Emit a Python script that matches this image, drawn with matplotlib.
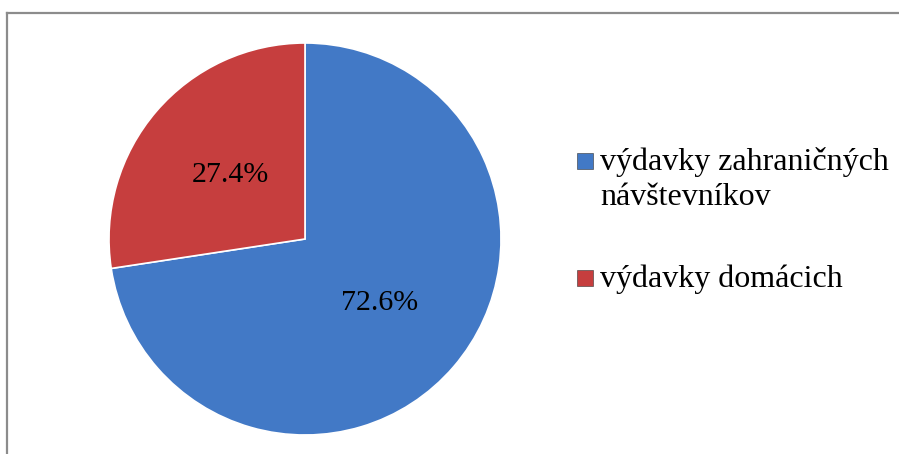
import matplotlib.pyplot as plt
from matplotlib.lines import Line2D
from matplotlib.patches import Rectangle

labels = ["výdavky zahraničných\nnávštevníkov", "výdavky domácich"]
shares = [72.6, 27.4]
colors = ["#4279C6", "#C63E3E"]

plt.rcParams['font.family'] = ['Liberation Serif', 'DejaVu Serif']

W, H = 899, 454
fig = plt.figure(figsize=(W / 100, H / 100), dpi=100)

# outer frame (only top and left edges are visible in the crop)
fig.add_artist(Line2D([7 / W, 1.0], [1 - 13 / H, 1 - 13 / H], color="#8c8c8c", lw=1.6))
fig.add_artist(Line2D([7 / W, 7 / W], [1 - 13 / H, 0.0], color="#8c8c8c", lw=1.6))

# pie: centre (305, 239) px, radius 196 px
cx, cy, r = 305, 239, 196
ax = fig.add_axes([(cx - r) / W, (H - cy - r) / H, 2 * r / W, 2 * r / H])
wedges, _, autotexts = ax.pie(shares, colors=colors, startangle=90, counterclock=False,
                              autopct='%1.1f%%', pctdistance=0.5,
                              wedgeprops=dict(edgecolor="white", linewidth=1.2),
                              textprops=dict(fontsize=21.5, color="black"))
ax.set_xlim(-1, 1)
ax.set_ylim(-1, 1)

# legend drawn by hand: marker sits next to the first line of each label
line_h = 35
entries = [(170, wedges[0].get_facecolor()), (287, wedges[1].get_facecolor())]
for (base, col), lab in zip(entries, labels):
    fig.add_artist(Rectangle((577 / W, 1 - (base - 1) / H), 16 / W, 16 / H,
                             facecolor=col, edgecolor="#333333", lw=0.4))
    for i, part in enumerate(lab.split("\n")):
        fig.text(600 / W, 1 - (base + i * line_h) / H, part, fontsize=23,
                 va="baseline", ha="left")

fig.savefig("out.png", dpi=100)
